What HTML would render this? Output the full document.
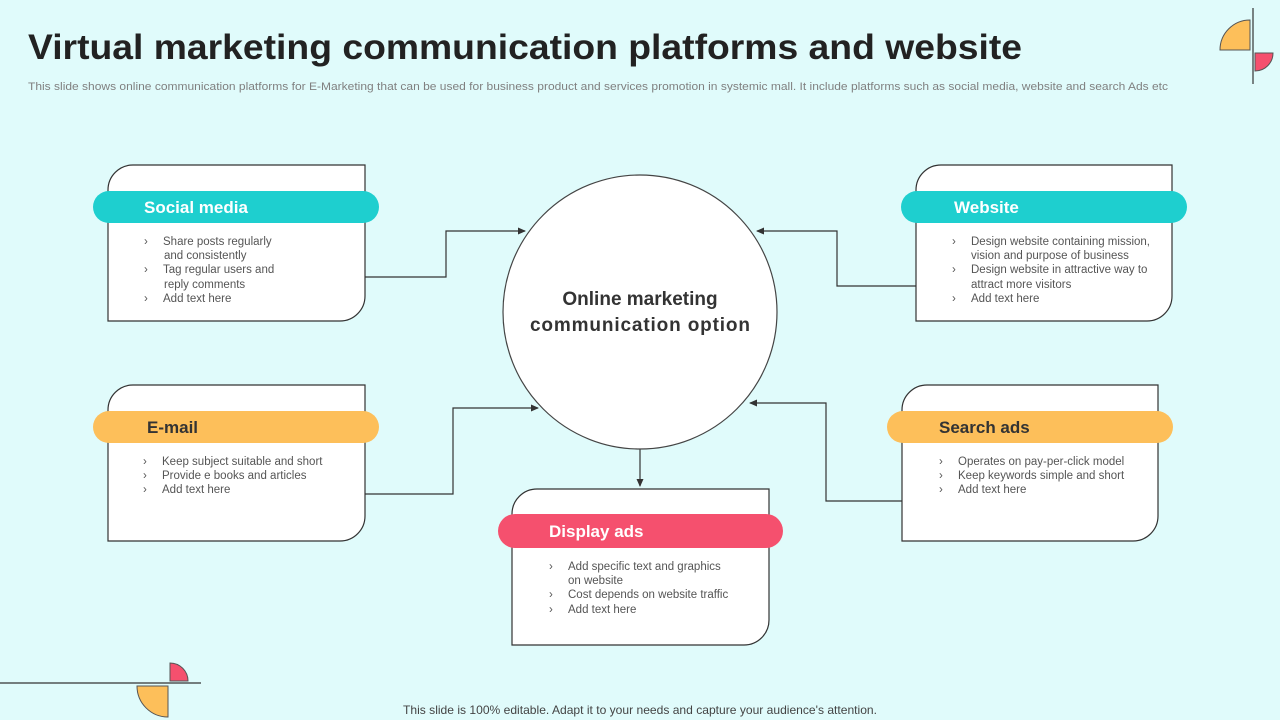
<!DOCTYPE html>
<html><head><meta charset="utf-8"><style>
html,body{margin:0;padding:0;background:#e0fbfb;}
svg{display:block;font-family:"Liberation Sans",sans-serif;}
</style></head><body>
<svg width="1280" height="720" viewBox="0 0 1280 720" xmlns="http://www.w3.org/2000/svg">
<defs>
<marker id="ar" markerWidth="8" markerHeight="8" refX="7" refY="4" orient="auto" markerUnits="userSpaceOnUse">
<path d="M0,0.5 L8,4 L0,7.5 Z" fill="#333"/></marker>
</defs>
<rect width="1280" height="720" fill="#e0fbfb"/>
<text x="28" y="59" font-size="35" font-weight="bold" fill="#222" textLength="994" lengthAdjust="spacingAndGlyphs">Virtual marketing communication platforms and website</text>
<text x="28" y="90" font-size="11" fill="#808080" textLength="1140" lengthAdjust="spacingAndGlyphs">This slide shows online communication platforms for E-Marketing that can be used for business product and services promotion in systemic mall. It include platforms such as social media, website and search Ads etc</text>

<line x1="1253" y1="8" x2="1253" y2="84" stroke="#333" stroke-width="1.2"/>
<path d="M1250,50 L1220,50 A30,30 0 0 1 1250,20 Z" fill="#fdbf5a" stroke="#555" stroke-width="1"/>
<path d="M1255,53 L1273,53 A18,18 0 0 1 1255,71 Z" fill="#f5506e" stroke="#555" stroke-width="1"/>
<line x1="0" y1="683" x2="201" y2="683" stroke="#333" stroke-width="1.2"/>
<path d="M170,681 L170,663 A18,18 0 0 1 188,681 Z" fill="#f5506e" stroke="#555" stroke-width="1"/>
<path d="M168,686 L168,717 A31,31 0 0 1 137,686 Z" fill="#fdbf5a" stroke="#555" stroke-width="1"/>

<g fill="none" stroke="#333" stroke-width="1.2">
<polyline points="365,277 446,277 446,231 525,231" marker-end="url(#ar)"/>
<polyline points="365,494 453,494 453,408 538,408" marker-end="url(#ar)"/>
<polyline points="916,286 837,286 837,231 757,231" marker-end="url(#ar)"/>
<polyline points="902,501 826,501 826,403 750,403" marker-end="url(#ar)"/>
<line x1="640" y1="448" x2="640" y2="486" marker-end="url(#ar)"/>
</g>

<circle cx="640" cy="312" r="137" fill="#fff" stroke="#444" stroke-width="1.2"/>
<text x="640" y="305" font-size="19" font-weight="bold" fill="#333" text-anchor="middle">Online marketing</text>
<text x="640" y="331" font-size="19" font-weight="bold" fill="#333" text-anchor="middle" textLength="220" lengthAdjust="spacing">communication  option</text>

<g stroke="#333" stroke-width="1.2" fill="#fff">
<path d="M133,165 L365,165 L365,296 A25,25 0 0 1 340,321 L108,321 L108,190 A25,25 0 0 1 133,165 Z"/>
<path d="M941,165 L1172,165 L1172,296 A25,25 0 0 1 1147,321 L916,321 L916,190 A25,25 0 0 1 941,165 Z"/>
<path d="M133,385 L365,385 L365,516 A25,25 0 0 1 340,541 L108,541 L108,410 A25,25 0 0 1 133,385 Z"/>
<path d="M927,385 L1158,385 L1158,516 A25,25 0 0 1 1133,541 L902,541 L902,410 A25,25 0 0 1 927,385 Z"/>
<path d="M537,489 L769,489 L769,620 A25,25 0 0 1 744,645 L512,645 L512,514 A25,25 0 0 1 537,489 Z"/>
</g>
<rect x="93" y="191" width="286" height="32" rx="16" fill="#1ecfcf"/>
<rect x="901" y="191" width="286" height="32" rx="16" fill="#1ecfcf"/>
<rect x="93" y="411" width="286" height="32" rx="16" fill="#fdbf5a"/>
<rect x="887" y="411" width="286" height="32" rx="16" fill="#fdbf5a"/>
<rect x="498" y="514" width="285" height="34" rx="17" fill="#f5506e"/>
<g font-size="17" font-weight="bold">
<text x="144" y="213" fill="#fff">Social media</text>
<text x="954" y="213" fill="#fff">Website</text>
<text x="147" y="433" fill="#333">E-mail</text>
<text x="939" y="433" fill="#333">Search ads</text>
<text x="549" y="537" fill="#fff">Display ads</text>
</g>

<g font-size="11.5" fill="#555">
<text x="144" y="245">›</text><text x="163" y="245">Share posts regularly</text>
<text x="164" y="259">and consistently</text>
<text x="144" y="273">›</text><text x="163" y="273">Tag regular users and</text>
<text x="164" y="288">reply comments</text>
<text x="144" y="302">›</text><text x="163" y="302">Add text here</text>

<text x="952" y="245">›</text><text x="971" y="245">Design website containing mission,</text>
<text x="971" y="259">vision and purpose of business</text>
<text x="952" y="273">›</text><text x="971" y="273">Design website in attractive way to</text>
<text x="971" y="288">attract more visitors</text>
<text x="952" y="302">›</text><text x="971" y="302">Add text here</text>

<text x="143" y="465">›</text><text x="162" y="465">Keep subject suitable and short</text>
<text x="143" y="479">›</text><text x="162" y="479">Provide e books and articles</text>
<text x="143" y="493">›</text><text x="162" y="493">Add text here</text>

<text x="939" y="465">›</text><text x="958" y="465">Operates on pay-per-click model</text>
<text x="939" y="479">›</text><text x="958" y="479">Keep keywords simple and short</text>
<text x="939" y="493">›</text><text x="958" y="493">Add text here</text>

<text x="549" y="570">›</text><text x="568" y="570">Add specific text and graphics</text>
<text x="568" y="584">on website</text>
<text x="549" y="598">›</text><text x="568" y="598">Cost depends on website traffic</text>
<text x="549" y="613">›</text><text x="568" y="613">Add text here</text>
</g>

<text x="640" y="714" font-size="12" fill="#444" text-anchor="middle" textLength="474" lengthAdjust="spacingAndGlyphs">This slide is 100% editable. Adapt it to your needs and capture your audience's attention.</text>
</svg>
</body></html>
